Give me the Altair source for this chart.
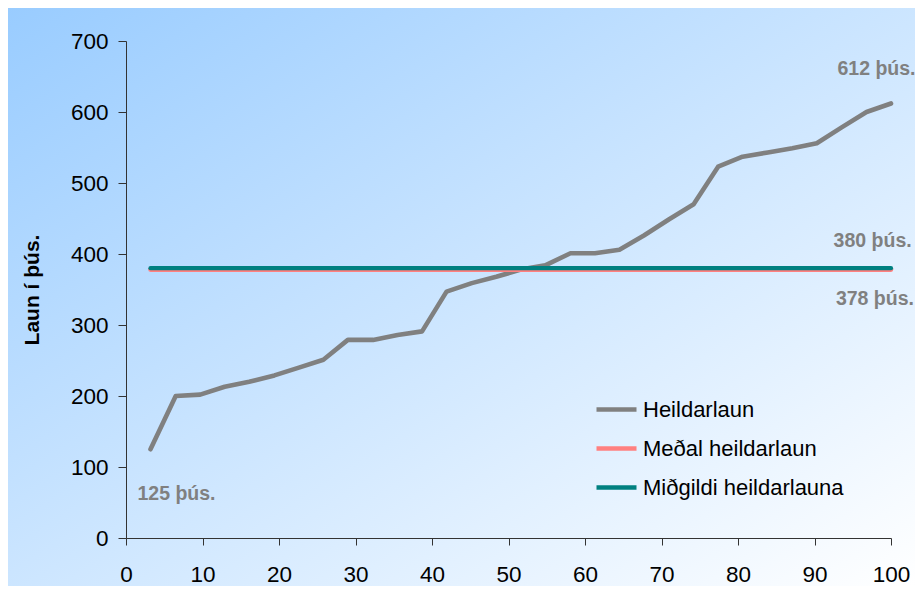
import altair as alt
import pandas as pd

# ---- data ----
percentile = [3.2, 6.5, 9.7, 12.9, 16.1, 19.4, 22.6, 25.8, 29.0, 32.3, 35.5,
              38.7, 41.9, 45.2, 48.4, 51.6, 54.8, 58.1, 61.3, 64.5, 67.7,
              71.0, 74.2, 77.4, 80.6, 83.9, 87.1, 90.3, 93.5, 96.8, 100.0]
heildarlaun = [125, 200, 202, 213, 220, 229, 240, 251, 279, 279, 286,
               291, 347, 359, 368, 378, 384, 401, 401, 406, 426,
               449, 470, 523, 537, 543, 549, 556, 578, 600, 612]
medal_value = 378
midgildi_value = 380
series_names = ["Heildarlaun", "Meðal heildarlaun", "Miðgildi heildarlauna"]
series_colors = ["#808080", "#FF8080", "#008080"]
x_ticks = list(range(0, 101, 10))
y_ticks = list(range(0, 701, 100))
ann_text = ["612 þús.", "380 þús.", "378 þús.", "125 þús."]
ann_x = [98.1, 97.6, 97.9, 6.6]
ann_y = [661, 419, 337, 62]

W, H = 765, 497
PAD = {"left": 118, "top": 33, "right": 24, "bottom": 48}
FONT = "Liberation Sans"

df_main = pd.DataFrame({"x": percentile, "y": heildarlaun, "series": series_names[0]})
df_mean = pd.DataFrame({"x": [percentile[0], percentile[-1]],
                        "y": [medal_value, medal_value], "series": series_names[1]})
df_med = pd.DataFrame({"x": [percentile[0], percentile[-1]],
                       "y": [midgildi_value, midgildi_value], "series": series_names[2]})
df_ann = pd.DataFrame({"x": ann_x, "y": ann_y, "label": ann_text})

xscale = alt.Scale(domain=[0, 100], nice=False)
yscale = alt.Scale(domain=[0, 700], nice=False)
cscale = alt.Scale(domain=series_names, range=series_colors)

xaxis = alt.Axis(values=x_ticks, grid=False, title=None, labelFontSize=22.5,
                 labelFont=FONT, labelColor="black", tickSize=7, labelPadding=18,
                 labelFlush=False, labelOverlap=False,
                 domainColor="#333333", tickColor="#333333", zindex=1)
yaxis = alt.Axis(values=y_ticks, grid=False, title="Laun í þús.", labelFontSize=22.5,
                 labelFont=FONT, labelColor="black", tickSize=8, labelPadding=10,
                 labelFlush=False, labelOverlap=False,
                 domainColor="#333333", tickColor="#333333",
                 titleFont=FONT, titleFontSize=21, titleFontWeight="bold",
                 titleColor="black", titlePadding=28, zindex=1)

legend = alt.Legend(orient="none", legendX=468, legendY=346, title=None,
                    symbolType="stroke", symbolSize=1600, symbolStrokeWidth=4.5,
                    labelFontSize=22, labelFont=FONT, labelColor="black",
                    labelOffset=4, labelLimit=400, rowPadding=5, padding=0)

bg = alt.Chart(alt.Data(values=[{}])).mark_rect(
    color=alt.Gradient(gradient="linear",
                       stops=[alt.GradientStop(color="#99CCFF", offset=0),
                              alt.GradientStop(color="#FFFFFF", offset=1)],
                       x1=0, y1=0, x2=1, y2=1),
    clip=False
).encode(
    x=alt.value(-PAD["left"]), x2=alt.value(W + PAD["right"]),
    y=alt.value(-PAD["top"]), y2=alt.value(H + PAD["bottom"])
)

def line(df, width):
    return alt.Chart(df).mark_line(strokeWidth=width, strokeCap="round",
                                   strokeJoin="round").encode(
        x=alt.X("x:Q", scale=xscale, axis=xaxis),
        y=alt.Y("y:Q", scale=yscale, axis=yaxis),
        color=alt.Color("series:N", scale=cscale, legend=legend),
    )

texts = alt.Chart(df_ann).mark_text(fontWeight="bold", fontSize=19.5, font=FONT,
                                    color="#808080", align="center",
                                    baseline="middle").encode(
    x=alt.X("x:Q", scale=xscale), y=alt.Y("y:Q", scale=yscale), text="label:N")

chart = alt.layer(bg, line(df_main, 4.6), line(df_mean, 4.6), line(df_med, 4.2), texts).properties(
    width=W, height=H,
    autosize=alt.AutoSizeParams(type="none"),
    padding=PAD,
    background="white",
).configure_view(stroke="transparent")

chart.save("out.html", embed_options={"renderer": "svg", "actions": False})
